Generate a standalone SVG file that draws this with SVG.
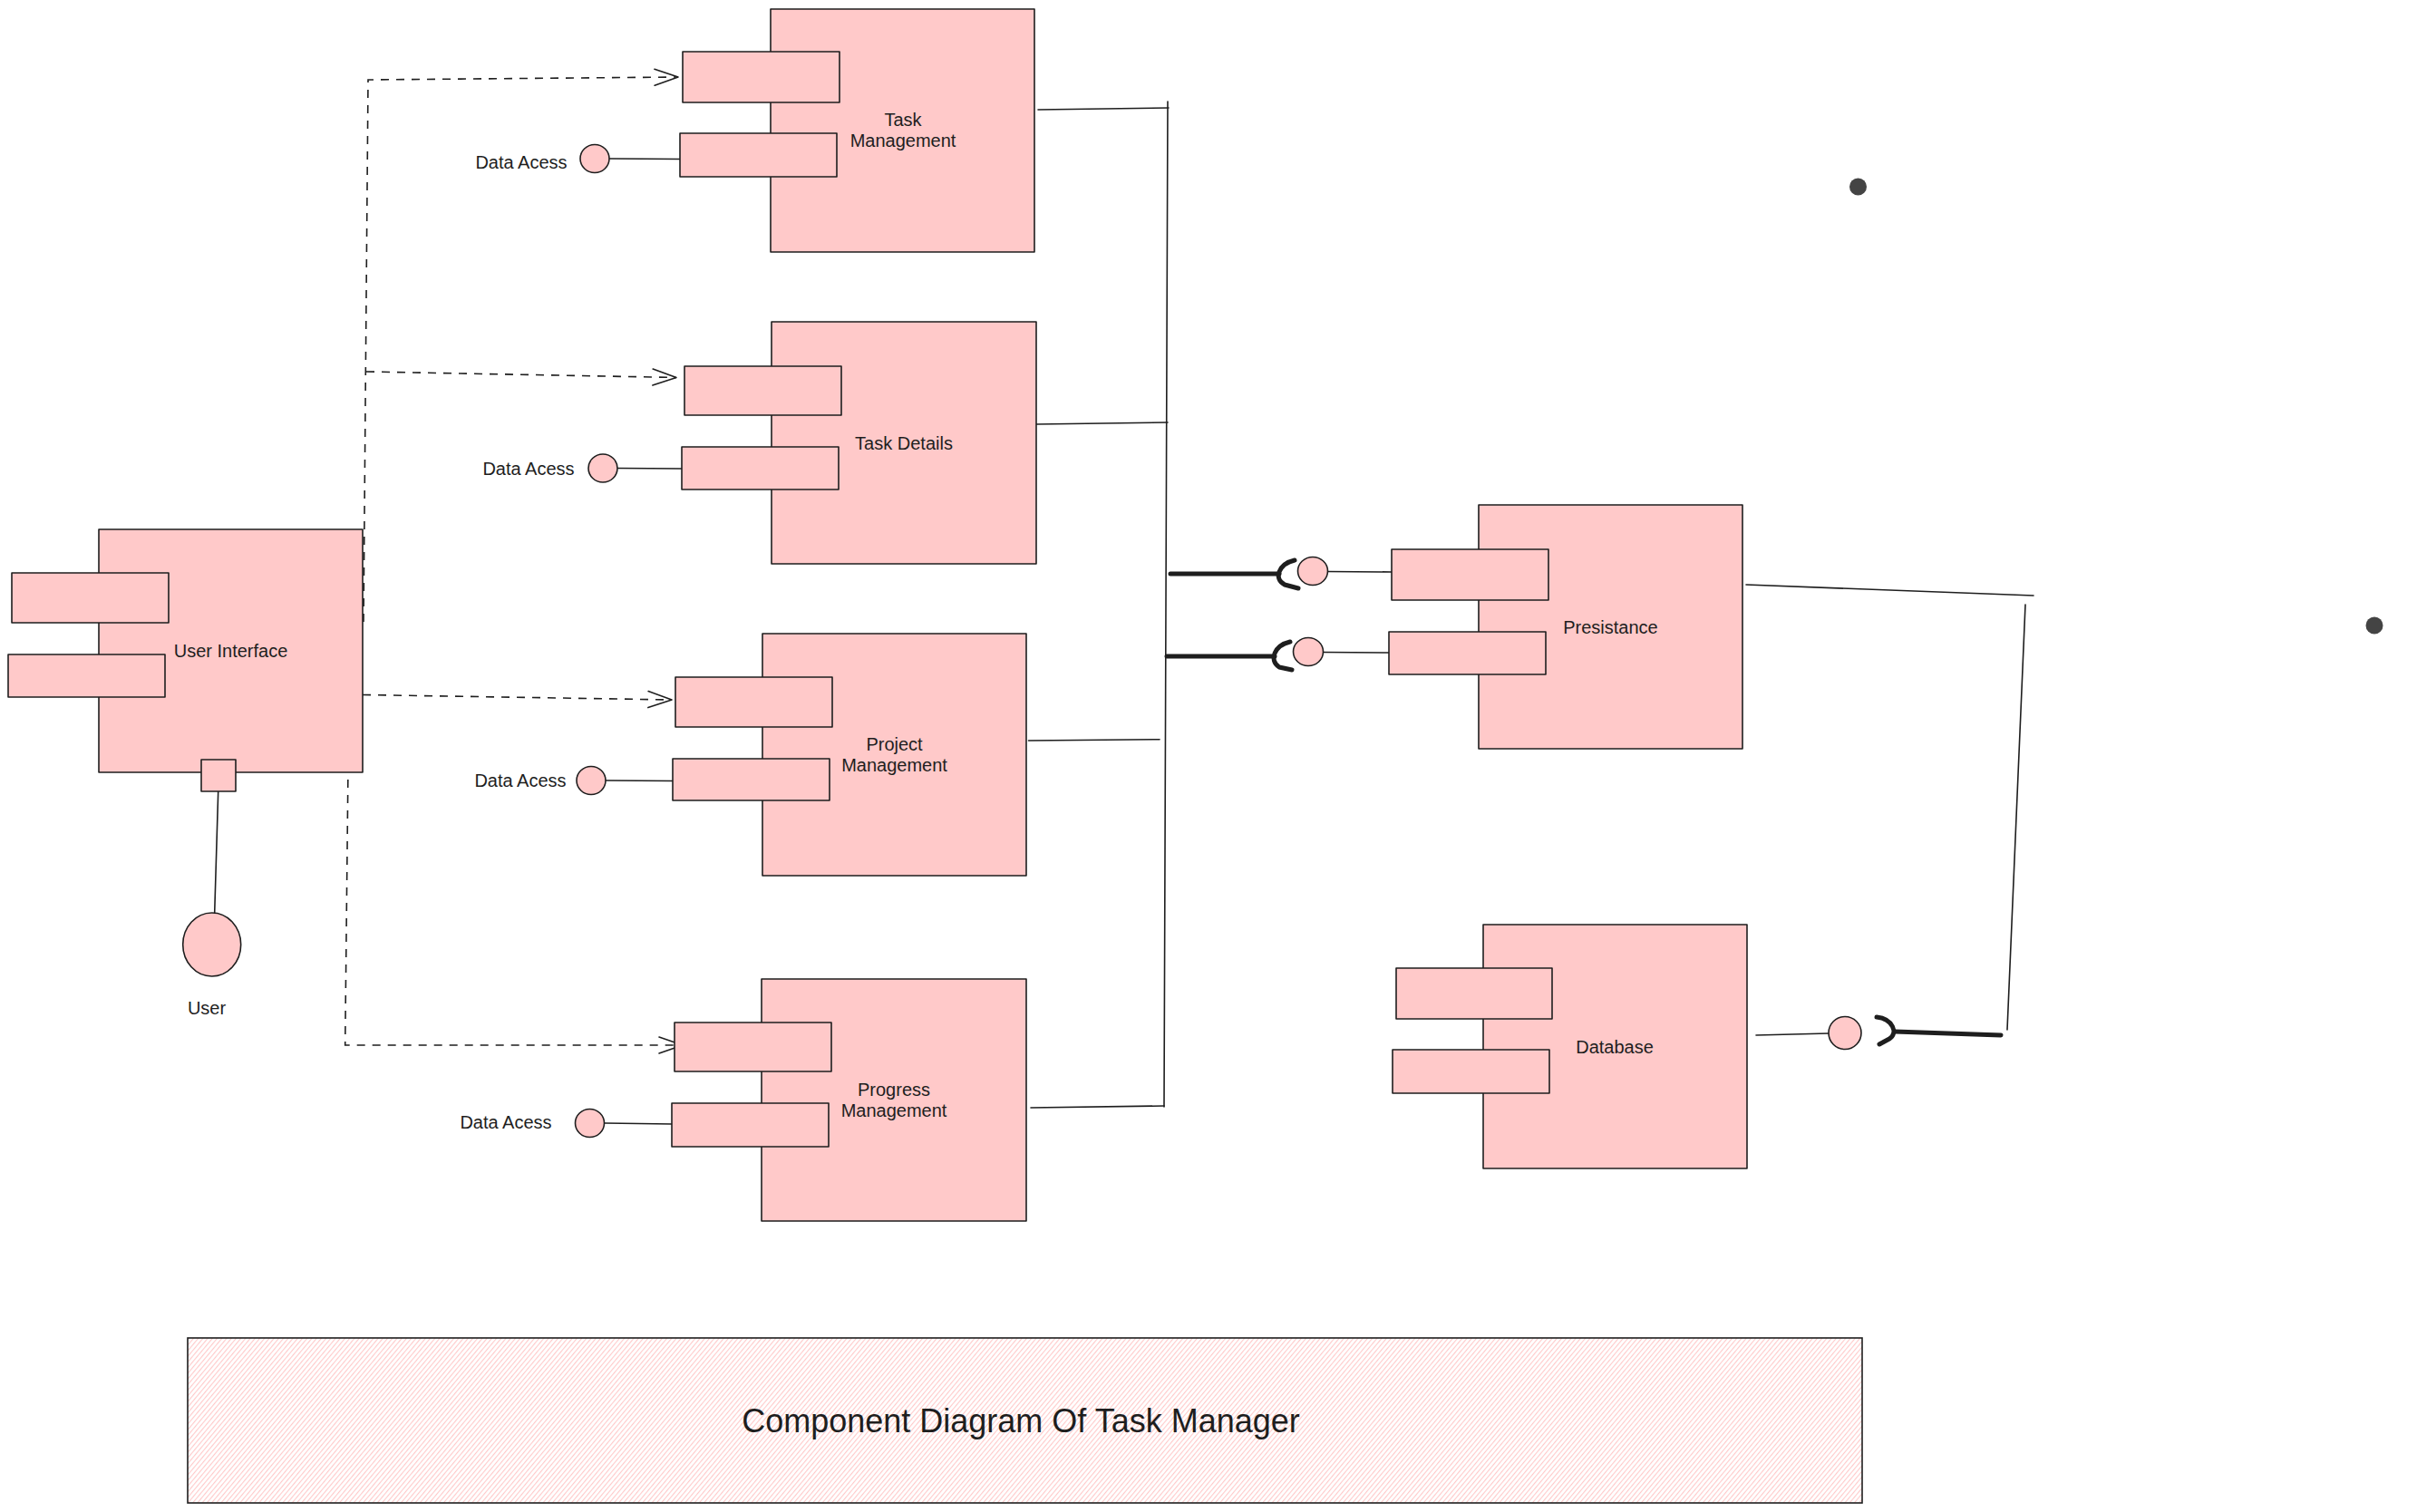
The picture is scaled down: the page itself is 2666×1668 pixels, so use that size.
<svg xmlns="http://www.w3.org/2000/svg" width="2666" height="1668" viewBox="0 0 2666 1668">
<defs>
<style>
.box{fill:#ffc9c9;stroke:#1e1e1e;stroke-width:1.6;stroke-linejoin:round}
.lbl{font-family:"Liberation Sans",Arial,sans-serif;font-size:20px;fill:#1e1e1e;text-anchor:middle}
.title{font-family:"Liberation Sans",Arial,sans-serif;font-size:36px;fill:#1e1e1e;text-anchor:middle}
.ln{fill:none;stroke:#1e1e1e;stroke-width:1.6;stroke-linecap:round}
.dash{fill:none;stroke:#1e1e1e;stroke-width:1.6;stroke-dasharray:9 8}
.thick{fill:none;stroke:#1e1e1e;stroke-width:5;stroke-linecap:round;stroke-linejoin:round}
.dot{fill:#444444}
</style>
<marker id="open" markerUnits="userSpaceOnUse" markerWidth="40" markerHeight="30" refX="0" refY="0" viewBox="-30 -15 40 30" orient="auto" overflow="visible">
<path d="M-26,-9 L0,0 L-26,9" fill="none" stroke="#1e1e1e" stroke-width="1.6" stroke-linecap="round" stroke-linejoin="round"/>
</marker>
<pattern id="hatch" patternUnits="userSpaceOnUse" width="4" height="4" patternTransform="rotate(40)">
<line x1="0.5" y1="0" x2="0.5" y2="4" stroke="#ffc9c9" stroke-width="1.2"/>
</pattern>
</defs>
<rect width="2666" height="1668" fill="#ffffff"/>

<g id="connectors">
<!-- dependencies from User Interface -->
<path class="dash" d="M401,686 L406,88 L748,85" marker-end="url(#open)"/>
<path class="dash" d="M404,410 L746,416.5" marker-end="url(#open)"/>
<path class="dash" d="M400,766.5 L741,772" marker-end="url(#open)"/>
<path class="dash" d="M384,843 L380.7,1153 L753,1153" marker-end="url(#open)"/>
<!-- bus from management components -->
<path class="ln" d="M1145,121 L1289,119"/>
<path class="ln" d="M1288,112 L1284,1221"/>
<path class="ln" d="M1143,468 L1288,466"/>
<path class="ln" d="M1134.5,817 L1279,815.7"/>
<path class="ln" d="M1137,1222 L1284,1220"/>
<!-- required interfaces to Presistance -->
<path class="thick" d="M1291,633 L1411,633"/>
<path class="thick" d="M1428,618 C1411,622 1404,638 1417,645 L1432,649"/>
<path class="thick" d="M1287,724 L1406,724"/>
<path class="thick" d="M1423,708 C1406,712 1399,728 1411,736 L1425,739"/>
<!-- Presistance to Database -->
<path class="ln" d="M1926,645 L2243,657"/>
<path class="ln" d="M2234,667 L2214,1136"/>
<path class="thick" d="M2090,1138 L2207,1142"/>
<path class="thick" d="M2070,1122 C2088,1124 2094,1140 2084,1146 L2073,1152"/>
<path class="ln" d="M1937,1142 L2017,1140"/>
<!-- provided interface lines -->
<path class="ln" d="M672,175 L750,175.5"/>
<path class="ln" d="M681,516.5 L752,517"/>
<path class="ln" d="M668,861 L742,861.5"/>
<path class="ln" d="M667,1239 L741,1240"/>
<path class="ln" d="M1464,630.5 L1535,631"/>
<path class="ln" d="M1459,719.5 L1532,720"/>
<path class="ln" d="M240.7,873 L236.7,1007"/>
</g>

<g id="task-management">
<rect class="box" x="850" y="10" width="291" height="268"/>
<rect class="box" x="753" y="57" width="173" height="56"/>
<rect class="box" x="750" y="147" width="173" height="48"/>
<text class="lbl" x="996" y="139">Task</text>
<text class="lbl" x="996" y="162">Management</text>
</g>
<g id="task-management-data">
<ellipse class="box" cx="656" cy="175" rx="16" ry="15.5"/>
<text class="lbl" x="575" y="186">Data Acess</text>
</g>

<g id="task-details">
<rect class="box" x="851" y="355" width="292" height="267"/>
<rect class="box" x="755" y="404" width="173" height="54"/>
<rect class="box" x="752" y="493" width="173" height="47"/>
<text class="lbl" x="997" y="496">Task Details</text>
</g>
<g id="task-details-data">
<ellipse class="box" cx="665" cy="516.5" rx="16" ry="15.5"/>
<text class="lbl" x="583" y="524">Data Acess</text>
</g>

<g id="project-management">
<rect class="box" x="841" y="699" width="291" height="267"/>
<rect class="box" x="745" y="747" width="173" height="55"/>
<rect class="box" x="742" y="837" width="173" height="46"/>
<text class="lbl" x="986.5" y="828">Project</text>
<text class="lbl" x="986.5" y="851">Management</text>
</g>
<g id="project-management-data">
<ellipse class="box" cx="652" cy="861" rx="16" ry="15.5"/>
<text class="lbl" x="574" y="868">Data Acess</text>
</g>

<g id="progress-management">
<rect class="box" x="840" y="1080" width="292" height="267"/>
<rect class="box" x="744" y="1128" width="173" height="54"/>
<rect class="box" x="741" y="1217" width="173" height="48"/>
<text class="lbl" x="986" y="1209">Progress</text>
<text class="lbl" x="986" y="1232">Management</text>
</g>
<g id="progress-management-data">
<ellipse class="box" cx="650.5" cy="1239" rx="16" ry="15.5"/>
<text class="lbl" x="558" y="1245">Data Acess</text>
</g>

<g id="user-interface">
<rect class="box" x="109" y="584" width="291" height="268"/>
<rect class="box" x="13" y="632" width="173" height="55"/>
<rect class="box" x="9" y="722" width="173" height="47"/>
<rect class="box" x="222" y="838" width="38" height="35"/>
<text class="lbl" x="254.5" y="725">User Interface</text>
</g>

<g id="user">
<ellipse class="box" cx="233.7" cy="1042" rx="32" ry="35"/>
<text class="lbl" x="228" y="1119">User</text>
</g>

<g id="presistance">
<rect class="box" x="1631" y="557" width="291" height="269"/>
<rect class="box" x="1535" y="606" width="173" height="56"/>
<rect class="box" x="1532" y="697" width="173" height="47"/>
<ellipse class="box" cx="1448" cy="630" rx="16.5" ry="15.5"/>
<ellipse class="box" cx="1443" cy="719" rx="16.5" ry="15.5"/>
<text class="lbl" x="1776.5" y="698.5">Presistance</text>
</g>

<g id="database">
<rect class="box" x="1636" y="1020" width="291" height="269"/>
<rect class="box" x="1540" y="1068" width="172" height="56"/>
<rect class="box" x="1536" y="1158" width="173" height="48"/>
<ellipse class="box" cx="2035" cy="1139.5" rx="18" ry="18"/>
<text class="lbl" x="1781" y="1161.5">Database</text>
</g>

<g id="dots">
<circle class="dot" cx="2049.5" cy="206" r="9.5"/>
<circle class="dot" cx="2619" cy="690" r="9.5"/>
</g>

<g id="title">
<rect x="207" y="1476" width="1847" height="182" fill="url(#hatch)" stroke="#1e1e1e" stroke-width="1.6"/>
<text class="title" x="1126" y="1580">Component Diagram Of Task Manager</text>
</g>
</svg>
